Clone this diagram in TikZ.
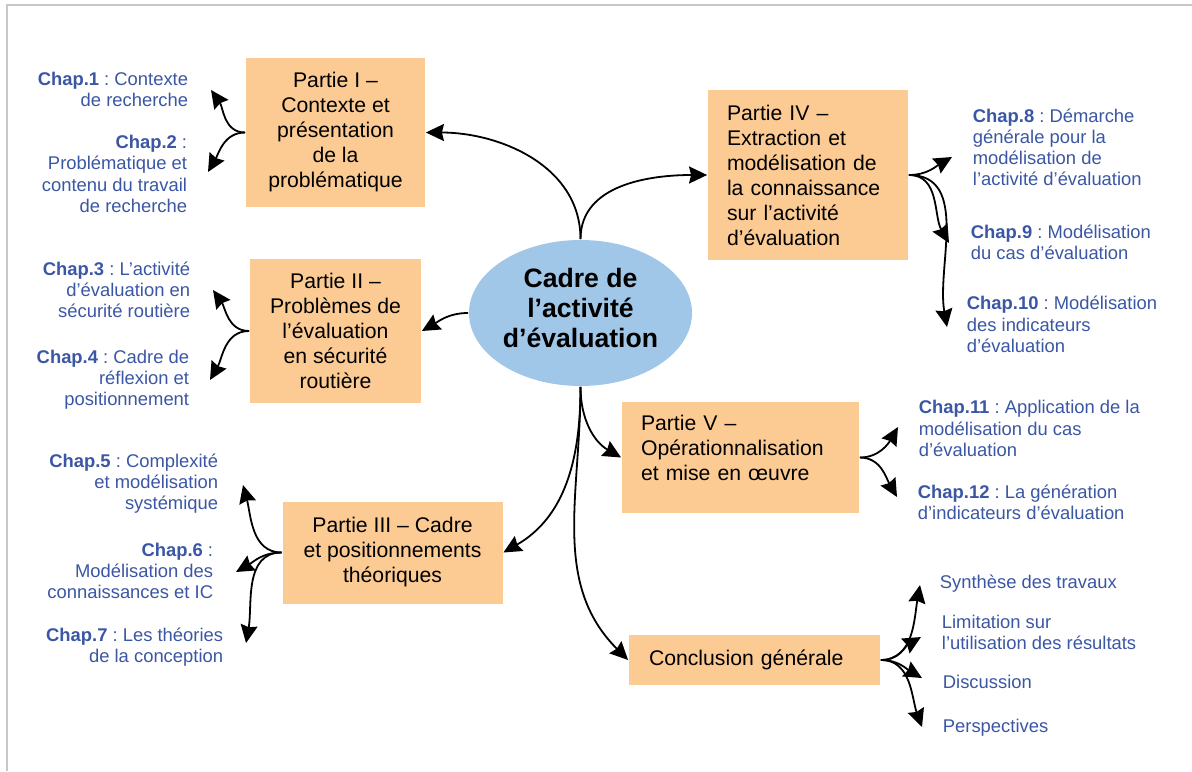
\documentclass[tikz,border=0pt]{standalone}
\usepackage{fontspec}
\setmainfont{Liberation Sans}
\usetikzlibrary{shapes.geometric, arrows.meta, positioning}
\frenchspacing

\definecolor{partieorange}{RGB}{252,203,148}
\definecolor{cadrebleu}{RGB}{160,199,232}
\definecolor{chapbleu}{RGB}{58,86,164}
\definecolor{cadregris}{RGB}{200,200,200}

\newcommand{\partiefont}{\fontsize{10.6}{12.5}\selectfont}
\newcommand{\chapitrefont}{\fontsize{9.2}{10.6}\selectfont}
\newcommand{\cadrefont}{\fontsize{13.3}{15}\selectfont\bfseries}

\tikzset{
  partie/.style={fill=partieorange, inner sep=0pt, font=\partiefont, align=center},
  chap/.style={text=chapbleu, inner sep=0pt, font=\chapitrefont},
}

\begin{document}
\begin{tikzpicture}[x=0.5pt, y=-0.5pt, ->, >={Stealth[length=9pt, width=8.5pt, inset=1pt]}, line width=0.9pt]

\useasboundingbox (0,0) rectangle (1192,771);
\draw [-, line width=1pt, cadregris] (1192,5) -- (7,5) -- (7,771);

% centre
\node [ellipse, fill=cadrebleu, minimum width=111.5pt, minimum height=73pt, inner sep=0pt, font=\cadrefont, align=center] (cadre) at (580.5,313) {Cadre de\\l’activité\\d’évaluation\\[-10pt]\mbox{}};

% parties
\node [partie, minimum width=89.5pt, minimum height=74.5pt] (p1) at (335.5,132.5) {Partie I –\\Contexte et\\présentation\\de la\\problématique};
\node [partie, minimum width=85.5pt, minimum height=72pt] (p2) at (335.5,331) {Partie II –\\Problèmes de\\l’évaluation\\en sécurité\\routière};
\node [partie, minimum width=110pt, minimum height=51pt] (p3) at (392.5,552.5) {Partie III – Cadre\\et positionnements\\théoriques};
\node [partie, align=left, text width=81pt, inner xsep=9.5pt, minimum height=85pt] (p4) at (808,175) {Partie IV –\\Extraction et\\modélisation de\\la connaissance\\sur l’activité\\d’évaluation};
\node [partie, align=left, text width=99.5pt, inner xsep=9.5pt, minimum height=55.5pt] (p5) at (740.5,457.5) {Partie V –\\Opérationnalisation\\et mise en œuvre\\[-3pt]\mbox{}};
\node [partie, align=left, text width=105.5pt, inner xsep=10pt, minimum height=25pt] (conc) at (754.5,660) {Conclusion générale};

% chapitres
\node [chap, anchor=east, align=right] (c1) at (189,89.5) {\textbf{Chap.1} : Contexte\\de recherche};
\node [chap, anchor=east, align=right] (c2) at (188,174) {\textbf{Chap.2} :\\Problématique et\\contenu du travail\\de recherche};
\node [chap, anchor=east, align=right] (c3) at (191,290) {\textbf{Chap.3} : L’activité\\d’évaluation en\\sécurité routière};
\node [chap, anchor=east, align=right] (c4) at (190,380) {\textbf{Chap.4} : Cadre de\\réflexion et\\positionnement};
\node [chap, anchor=east, align=right] (c5) at (219,483.5) {\textbf{Chap.5} : Complexité\\et modélisation\\systémique};
\node [chap, anchor=east, align=right] (c6) at (214,571) {\textbf{Chap.6} :\\Modélisation des\\connaissances et IC};
\node [chap, anchor=east, align=right] (c7) at (224,647) {\textbf{Chap.7} : Les théories\\de la conception};
\node [chap, anchor=west, align=left] (c8) at (972,147.5) {\textbf{Chap.8} : Démarche\\générale pour la\\modélisation de\\l’activité d’évaluation};
\node [chap, anchor=west, align=left] (c9) at (970,242.5) {\textbf{Chap.9} : Modélisation\\du cas d’évaluation};
\node [chap, anchor=west, align=left] (c10) at (966,324.5) {\textbf{Chap.10} : Modélisation\\des indicateurs\\d’évaluation};
\node [chap, anchor=west, align=left] (c11) at (918,428.5) {\textbf{Chap.11} : Application de la\\modélisation du cas\\d’évaluation};
\node [chap, anchor=west, align=left] (c12) at (917,502) {\textbf{Chap.12} : La génération\\d’indicateurs d’évaluation};
\node [chap, anchor=west, align=left] (s1) at (939,584) {Synthèse des travaux};
\node [chap, anchor=west, align=left] (s2) at (941,632.5) {Limitation sur\\l’utilisation des résultats};
\node [chap, anchor=west, align=left] (s3) at (942,682) {Discussion};
\node [chap, anchor=west, align=left] (s4) at (942,728) {Perspectives};

% pointes des fleches
\coordinate (t1) at (211,90);
\coordinate (t2) at (208,172);
\coordinate (t3) at (213,290);
\coordinate (t4) at (210,380);
\coordinate (t5) at (243,485);
\coordinate (t6) at (236,572);
\coordinate (t7) at (246,643);
\coordinate (t8) at (952,157);
\coordinate (t9) at (949,243);
\coordinate (t10) at (947,327);
\coordinate (t11) at (898,427);
\coordinate (t12) at (897,497);
\coordinate (t13) at (920,585);
\coordinate (t14) at (921,637);
\coordinate (t15) at (922,678);
\coordinate (t16) at (922,727);

\path (cadre.north) edge [out=90, in=0] (p1.east);
\path (cadre.north) edge [out=90, in=180] (p4.west);
\path (cadre.west) edge [out=180, in=30] (p2.east);
\path (cadre.south) edge [out=-90, in=30] (p3.east);
\path (cadre.south) edge [out=-90, in=150] (p5.west);
\path (cadre.south) edge [out=-90, in=135] (conc.west);

\path (p1.west) edge [out=180, in=-55] (t1);
\path (p1.west) edge [out=180, in=60] (t2);
\path (p2.west) edge [out=180, in=-55] (t3);
\path (p2.west) edge [out=180, in=60] (t4);
\path (p3.west) edge [out=180, in=-75] (t5);
\path (p3.west) edge [out=180, in=30] (t6);
\path (p3.west) edge [out=180, in=80] (t7);
\path (p4.east) edge [out=0, in=-150] (t8);
\path (p4.east) edge [out=0, in=120] (t9);
\path (p4.east) edge [out=0, in=100] (t10);
\path (p5.east) edge [out=0, in=-120] (t11);
\path (p5.east) edge [out=0, in=120] (t12);
\path (conc.east) edge [out=0, in=-100] (t13);
\path (conc.east) edge [out=0, in=-150] (t14);
\path (conc.east) edge [out=0, in=150] (t15);
\path (conc.east) edge [out=0, in=110] (t16);

\end{tikzpicture}
\end{document}
